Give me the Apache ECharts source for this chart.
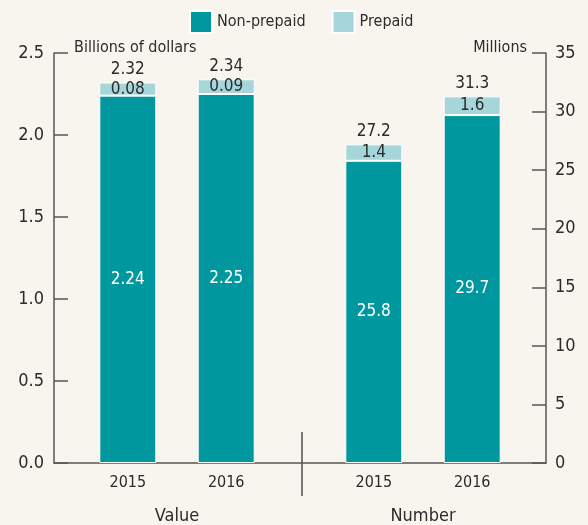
<!DOCTYPE html>
<html>
<head>
<meta charset="utf-8">
<script src="https://cdn.jsdelivr.net/npm/echarts@6/dist/echarts.min.js"></script>
<style>
html, body { margin: 0; padding: 0; background: #f8f5ef; }
#chart { width: 588px; height: 525px; }
</style>
</head>
<body>
<div id="chart"></div>
<script>
// slots on the x axis: Value 2015/2016 on the left, Number 2015/2016 on the right
var slots = ['', '2015', '', '2016', '', '', '2015', '', '2016', '']
var groups = ['Value', 'Number']

// billions of dollars (left axis)
var valueNonPrepaid = ['-', 2.24, '-', 2.25, '-', '-', '-', '-', '-', '-']
var valuePrepaid = ['-', 0.08, '-', 0.09, '-', '-', '-', '-', '-', '-']
var valueTotal = ['-', 2.32, '-', 2.34, '-', '-', '-', '-', '-', '-']

// millions (right axis)
var numberNonPrepaid = ['-', '-', '-', '-', '-', '-', 25.8, '-', 29.7, '-']
var numberPrepaid = ['-', '-', '-', '-', '-', '-', 1.4, '-', 1.6, '-']
var numberTotal = ['-', '-', '-', '-', '-', '-', 27.2, '-', 31.3, '-']

var font = '"Liberation Sans Narrow", "DejaVu Sans Condensed", sans-serif'
var teal = '#00979f'
var light = '#a6d5da'
var ink = '#2b2b2b'

var chart = echarts.init(document.getElementById('chart'))

function zeros (arr) {
  return arr.map(function (v) { return v === '-' ? '-' : 0 })
}

function totalLabel (arr) {
  return {
    show: true,
    position: 'top',
    distance: 4,
    color: ink,
    fontSize: 17,
    fontFamily: font,
    formatter: function (p) { return arr[p.dataIndex] }
  }
}

var barBase = {
  type: 'bar',
  barWidth: 57,
  barGap: '-100%'
}

chart.setOption({
  backgroundColor: '#f8f5ef',
  animation: false,
  textStyle: { fontFamily: font },
  legend: {
    top: 10,
    left: 189,
    padding: 0,
    itemWidth: 22,
    itemHeight: 22,
    itemGap: 26,
    icon: 'rect',
    textStyle: { color: ink, fontSize: 16, fontFamily: font },
    data: ['Non-prepaid', 'Prepaid']
  },
  grid: { left: 54, right: 42, top: 53, bottom: 61 },
  xAxis: [
    {
      type: 'category',
      data: slots,
      axisLine: { lineStyle: { color: '#555', width: 1.5 } },
      axisTick: { show: false },
      axisLabel: { interval: 0, color: ink, fontSize: 16, fontFamily: font, margin: 12 }
    },
    {
      type: 'category',
      data: groups,
      position: 'bottom',
      offset: 40,
      axisLine: { show: false },
      axisTick: { show: false },
      axisLabel: { color: ink, fontSize: 18, fontFamily: font, margin: 4 }
    }
  ],
  yAxis: [
    {
      type: 'value',
      min: 0,
      max: 2.5,
      interval: 0.5,
      name: 'Billions of dollars',
      nameLocation: 'end',
      nameGap: 5,
      nameTextStyle: { color: ink, fontSize: 16, fontFamily: font, align: 'left', verticalAlign: 'middle', padding: [0, 0, 0, 20] },
      axisLine: { show: true, lineStyle: { color: '#555', width: 1.5 } },
      axisTick: { show: true, inside: true, length: 14, lineStyle: { color: '#555', width: 1.5 } },
      axisLabel: { color: ink, fontSize: 18, fontFamily: font, margin: 10, formatter: function (v) { return v.toFixed(1) } },
      splitLine: { show: false }
    },
    {
      type: 'value',
      min: 0,
      max: 35,
      interval: 5,
      name: 'Millions',
      nameLocation: 'end',
      nameGap: 5,
      nameTextStyle: { color: ink, fontSize: 16, fontFamily: font, align: 'right', verticalAlign: 'middle', padding: [0, 19, 0, 0] },
      axisLine: { show: true, lineStyle: { color: '#555', width: 1.5 } },
      axisTick: { show: true, inside: true, length: 14, lineStyle: { color: '#555', width: 1.5 } },
      axisLabel: { color: ink, fontSize: 18, fontFamily: font, margin: 9 },
      splitLine: { show: false }
    }
  ],
  graphic: [
    {
      type: 'line',
      shape: { x1: 302, y1: 432, x2: 302, y2: 496 },
      style: { stroke: '#222', lineWidth: 1.2 }
    }
  ],
  series: [
    Object.assign({}, barBase, {
      name: 'Non-prepaid', stack: 'value', yAxisIndex: 0, data: valueNonPrepaid,
      itemStyle: { color: teal, borderColor: '#fff', borderWidth: 1 },
      label: { show: true, position: 'inside', color: '#fff', fontSize: 17, fontFamily: font }
    }),
    Object.assign({}, barBase, {
      name: 'Prepaid', stack: 'value', yAxisIndex: 0, data: valuePrepaid,
      itemStyle: { color: light, borderColor: '#fff', borderWidth: 1 },
      label: { show: true, position: 'inside', color: ink, fontSize: 17, fontFamily: font }
    }),
    Object.assign({}, barBase, {
      name: 'valueTotal', stack: 'value', yAxisIndex: 0, data: zeros(valueTotal),
      itemStyle: { color: 'transparent', borderWidth: 0 },
      label: totalLabel(valueTotal)
    }),
    Object.assign({}, barBase, {
      name: 'Non-prepaid', stack: 'number', yAxisIndex: 1, data: numberNonPrepaid,
      itemStyle: { color: teal, borderColor: '#fff', borderWidth: 1 },
      label: { show: true, position: 'inside', color: '#fff', fontSize: 17, fontFamily: font }
    }),
    Object.assign({}, barBase, {
      name: 'Prepaid', stack: 'number', yAxisIndex: 1, data: numberPrepaid,
      itemStyle: { color: light, borderColor: '#fff', borderWidth: 1 },
      label: { show: true, position: 'inside', color: ink, fontSize: 17, fontFamily: font }
    }),
    Object.assign({}, barBase, {
      name: 'numberTotal', stack: 'number', yAxisIndex: 1, data: zeros(numberTotal),
      itemStyle: { color: 'transparent', borderWidth: 0 },
      label: totalLabel(numberTotal)
    })
  ]
})
</script>
</body>
</html>
